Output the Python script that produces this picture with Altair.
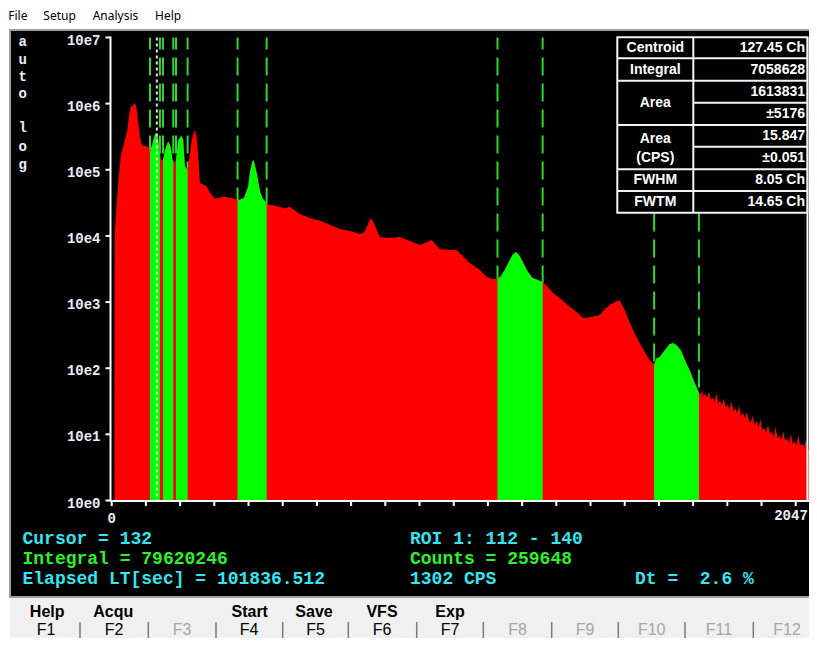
import altair as alt
import pandas as pd

OFF = 8          # page margin
W, H = 801, 630  # fits inside the 817x646 window without overflow

# ---------------- data ----------------
channels = [0, 8, 9, 15, 21, 27, 33, 39, 45, 51, 56, 62, 68, 71, 74, 77, 83, 89, 97, 106,
            112, 117, 126, 131, 136, 141, 145, 150, 156, 165, 172, 178, 180, 184, 188, 195,
            204, 209, 214, 221, 222, 224, 234, 243, 248, 253, 258, 268, 278, 287, 297, 302,
            316, 331, 346, 360, 368, 375, 387, 399, 404, 410, 414, 417, 424, 431, 435, 442,
            453, 462, 492, 506, 521, 536, 550, 579, 609, 638, 667, 696, 726, 740, 750, 758,
            766, 776, 784, 813, 842, 872, 901, 916, 935, 959, 989, 1009, 1032, 1047, 1076, 1097,
            1114, 1128, 1138, 1149, 1161, 1173, 1183, 1193, 1205, 1217, 1231, 1246, 1260,
            1276, 1290, 1310, 1339, 1363, 1378, 1398, 1427, 1442, 1456, 1471, 1485, 1500,
            1515, 1529, 1544, 1559, 1573, 1586, 1593, 1602, 1617, 1631, 1641, 1652, 1664,
            1680, 1690, 1704, 1717, 1722, 1726, 1730, 1736, 1741, 1747, 1752, 1758, 1763,
            1768, 1773, 1779, 1784, 1790, 1795, 1801, 1806, 1812, 1818, 1823, 1829, 1835,
            1840, 1846, 1852, 1857, 1863, 1868, 1874, 1880, 1885, 1891, 1897, 1902, 1908,
            1913, 1919, 1925, 1930, 1936, 1941, 1947, 1952, 1958, 1964, 1969, 1975, 1980,
            1986, 1991, 1997, 2002, 2008, 2013, 2019, 2025, 2030, 2036, 2041, 2047]
counts = [1, 1, 11500, 35000, 84000, 169000, 215000, 285000, 377000, 681000, 900000, 933000,
          1036000, 930000, 756000, 534000, 305000, 231000, 231000, 223000,
          201000, 225000, 339000, 364000, 285000, 181000, 142000, 142000, 201000, 270000,
          225000, 142000, 133000, 128000, 142000, 285000, 327000, 285000, 113000, 100000,
          107000, 113000, 285000, 404000, 320000, 159000, 63500, 59300, 56000, 44800, 39500,
          36400, 37700, 39000, 37700, 36400, 35100, 35100, 37700, 56000, 90000, 128000,
          142000, 128000, 90000, 56000, 44800, 36400, 31600, 29500, 27500, 26000, 27500,
          24000, 21500, 18700, 16900, 14700, 12700, 11900, 10700, 11500, 15500, 18500, 16000,
          12000, 9650, 9330, 9650, 8400, 7310, 7800, 8700, 6350, 6140, 6140, 4640, 3900, 3050,
          2390, 2230, 2230, 2480, 3050, 4040, 5300, 5720, 4970, 3750, 2850, 2310, 2150, 2010,
          1690, 1370, 1150, 850, 681, 572, 590, 635, 783, 900, 1000, 1070, 756,
          481, 338, 239, 175, 132, 115, 142, 148, 187, 231, 241, 223, 187,
          119, 93, 61, 43, 40, 47, 37, 41, 36, 44, 33, 36, 31,
          42, 30, 32, 27, 35, 25, 28, 24, 31, 22, 25, 21, 27,
          19, 21, 17.5, 22, 16, 15, 19, 13.5, 16, 12.5, 17, 11.5, 12.5,
          10.5, 14, 10, 11, 9, 13, 8.7, 9.5, 8.2, 11, 8, 8.6, 7.4,
          10, 7.2, 7.8, 6.8, 9.5, 6.7, 7.2, 6.3, 8.5, 6.0, 5.5, 4.8]
roi_start = [112, 150, 188, 368, 1128, 1586]
roi_end = [141, 180, 222, 453, 1260, 1717]
cursor_channel = [132]
x_tick_values = list(range(0, 2001, 100)) + [2047]
x_label_values = [0, 2047]
x_label_texts = ["0", "2047"]
y_tick_values = [1, 10, 100, 1000, 1e4, 1e5, 1e6, 1e7]
y_tick_texts = ["10e0", "10e1", "10e2", "10e3", "10e4", "10e5", "10e6", "10e7"]
side_letters = ["a", "u", "t", "o", "l", "o", "g"]

table_names = ["Centroid", "Integral", "Area", "Area", "(CPS)", "FWHM", "FWTM"]
table_values = ["127.45 Ch", "7058628", "1613831", "±5176", "15.847", "±0.051",
                "8.05 Ch", "14.65 Ch"]

info_left = ["Cursor = 132", "Integral = 79620246", "Elapsed LT[sec] = 101836.512"]
info_right = ["ROI 1: 112 - 140", "Counts = 259648", "1302 CPS"]
dt_text = "Dt =\u00a0\u00a02.6 %"
menu_items = ["File", "Setup", "Analysis", "Help"]
fkey_titles = ["Help", "Acqu", "Start", "Save", "VFS", "Exp"]
fkey_names = ["F1", "F2", "F3", "F4", "F5", "F6", "F7", "F8", "F9", "F10", "F11", "F12"]
fkey_enabled = [True, True, False, True, True, True, True, False, False, False, False, False]

# ---------------- layout (page pixels) ----------------
CYAN = "#36e4f0"
GREEN = "#2ef02e"
WHITE = "#e9eef8"

def P(v):
    return v - OFF

xs = alt.Scale(domain=[0, 2047], range=[P(111.7), P(811.8)])
ys = alt.Scale(type="log", domain=[1, 1e7], range=[P(500.5), P(37.5)])

def px_rects(rows, **mark):
    df = pd.DataFrame(rows, columns=["x", "x2", "y", "y2"])
    for c in df.columns:
        df[c] = df[c] - OFF
    return alt.Chart(df).mark_rect(**mark).encode(
        x=alt.X("x:Q", scale=None, axis=None), x2="x2:Q",
        y=alt.Y("y:Q", scale=None, axis=None), y2="y2:Q")

def px_rules(rows, **mark):
    df = pd.DataFrame(rows, columns=["x", "x2", "y", "y2"])
    for c in df.columns:
        df[c] = df[c] - OFF
    return alt.Chart(df).mark_rule(**mark).encode(
        x=alt.X("x:Q", scale=None, axis=None), x2="x2:Q",
        y=alt.Y("y:Q", scale=None, axis=None), y2="y2:Q")

def px_texts(rows, **mark):
    df = pd.DataFrame(rows, columns=["x", "y", "t", "c"])
    df["x"] = df["x"] - OFF
    df["y"] = df["y"] - OFF
    return alt.Chart(df).mark_text(baseline="middle", **mark).encode(
        x=alt.X("x:Q", scale=None, axis=None), y=alt.Y("y:Q", scale=None, axis=None),
        text="t:N", color=alt.Color("c:N", scale=None, legend=None))

layers = []

# window backgrounds
layers.append(px_rects([(10, 830, 597, 660)], color="#f0f0f0"))
layers.append(px_rects([(10, 830, 30, 597)], fill="#000000", stroke="#a0a0a0", strokeWidth=2))

# ROI dashed markers
bounds = pd.DataFrame({"ch": roi_start + roi_end})
layers.append(alt.Chart(bounds).mark_rule(color="#2ed62e", strokeWidth=2,
                                          strokeDash=[18, 8], strokeDashOffset=6).encode(
    x=alt.X("ch:Q", scale=xs, axis=None),
    y=alt.Y(datum=1e7, scale=ys, axis=None), y2=alt.Y2(datum=1)))

# spectrum
spec = pd.DataFrame({"ch": channels, "cnt": counts})
layers.append(alt.Chart(spec).mark_area(color="#ff0000", interpolate="linear").encode(
    x=alt.X("ch:Q", scale=xs, axis=None),
    y=alt.Y("cnt:Q", scale=ys, axis=None), y2=alt.Y2(datum=1)))
parts = []
for i, (s, e) in enumerate(zip(roi_start, roi_end)):
    sub = spec[(spec.ch >= s) & (spec.ch <= e)].copy()
    sub["roi"] = i
    parts.append(sub)
roi_df = pd.concat(parts, ignore_index=True)
layers.append(alt.Chart(roi_df).mark_area(color="#00ff00", interpolate="linear").encode(
    x=alt.X("ch:Q", scale=xs, axis=None),
    y=alt.Y("cnt:Q", scale=ys, axis=None), y2=alt.Y2(datum=1),
    detail="roi:N"))

# cursor
layers.append(alt.Chart(pd.DataFrame({"ch": cursor_channel})).mark_rule(
    color="#dddddd", strokeWidth=2, strokeDash=[3, 3]).encode(
    x=alt.X("ch:Q", scale=xs, axis=None),
    y=alt.Y(datum=1e7, scale=ys, axis=None), y2=alt.Y2(datum=1)))

# axes
layers.append(px_rules([(110.5, 110.5, 36.5, 502), (110, 813.5, 501, 501),
                        (807.5, 807.5, 37, 502)], color="#ffffff", strokeWidth=2))
layers.append(alt.Chart(pd.DataFrame({"ch": x_tick_values})).mark_rule(
    color="#ffffff", strokeWidth=2).encode(
    x=alt.X("ch:Q", scale=xs, axis=None), y=alt.value(P(501)), y2=alt.value(P(506))))
layers.append(alt.Chart(pd.DataFrame({"v": y_tick_values})).mark_rule(
    color="#ffffff", strokeWidth=2).encode(
    y=alt.Y("v:Q", scale=ys, axis=None), x=alt.value(P(105.5)), x2=alt.value(P(110.5))))
layers.append(alt.Chart(pd.DataFrame({"v": y_tick_values, "t": y_tick_texts})).mark_text(
    font="Liberation Mono", fontWeight="bold", fontSize=14, align="right",
    baseline="middle", dy=3, color=WHITE).encode(
    y=alt.Y("v:Q", scale=ys, axis=None), x=alt.value(P(100.5)), text="t:N"))
xl = pd.DataFrame({"ch": x_label_values, "t": x_label_texts})
layers.append(alt.Chart(xl.iloc[:1]).mark_text(
    font="Liberation Mono", fontWeight="bold", fontSize=14, align="center",
    baseline="middle", color=WHITE).encode(
    x=alt.X("ch:Q", scale=xs, axis=None), y=alt.value(P(519)), text="t:N"))
layers.append(alt.Chart(xl.iloc[1:]).mark_text(
    font="Liberation Mono", fontWeight="bold", fontSize=14, align="right",
    baseline="middle", dx=-4, color=WHITE).encode(
    x=alt.X("ch:Q", scale=xs, axis=None), y=alt.value(P(516)), text="t:N"))

letter_y = [41.7, 60, 76.7, 94, 128.3, 146.7, 165]
layers.append(px_texts([(22.7, yy, t, WHITE) for yy, t in zip(letter_y, side_letters)],
                       font="Liberation Mono", fontWeight="bold", fontSize=14, align="center"))

# results table
TL, TM, TR, TT, TB = 617.3, 693.3, 807.3, 37.3, 212.7
layers.append(px_rects([(TL, TR, TT, TB)], fill="#000000", stroke="#f4f4f4", strokeWidth=2))
tlines = [(TM, TM, TT, TB)]
tlines += [(TL, TR, yy, yy) for yy in [58.3, 80.7, 125, 169.3, 191]]
tlines += [(TM, TR, yy, yy) for yy in [102.7, 146.7]]
layers.append(px_rules(tlines, color="#f4f4f4", strokeWidth=2))
name_y = [47.8, 70, 102.7, 139.3, 157.8, 180.3, 202.3]
layers.append(px_texts([(655.3, yy, t, "#ffffff") for yy, t in zip(name_y, table_names)],
                       font="Liberation Sans", fontWeight="bold", fontSize=14, align="center"))
val_y = [47.8, 70, 91.7, 113.8, 136, 157.8, 180.3, 202.3]
layers.append(px_texts([(805.0, yy, t, "#ffffff") for yy, t in zip(val_y, table_values)],
                       font="Liberation Sans", fontWeight="bold", fontSize=14, align="right"))

# status texts
info_rows = []
info_cols = [CYAN, GREEN, CYAN]
for yy, t, c in zip([539, 559, 579], info_left, info_cols):
    info_rows.append((22.5, yy, t, c))
for yy, t, c in zip([539, 559, 579], info_right, info_cols):
    info_rows.append((410, yy, t, c))
info_rows.append((635, 579, dt_text, CYAN))
layers.append(px_texts(info_rows, font="Liberation Mono", fontWeight="bold",
                       fontSize=18, align="left"))

# menu bar
menu_x = [8.3, 43.3, 92.7, 155]
layers.append(px_texts([(xx, 15.7, t, "#000000") for xx, t in zip(menu_x, menu_items)],
                       font="Noto Sans", fontSize=12, align="left"))

# function key bar
title_x = [47.2, 113.3, 249.7, 314, 382, 450]
layers.append(px_texts([(xx, 611.7, t, "#000000") for xx, t in zip(title_x, fkey_titles)],
                       font="Liberation Sans", fontWeight="bold", fontSize=16, align="center"))
key_x = [46, 114, 182, 249, 315.5, 382, 450, 517.5, 585, 651.7, 719, 787]
layers.append(px_texts([(xx, 629.5, t, "#000000" if en else "#a6a6a6")
                        for xx, t, en in zip(key_x, fkey_names, fkey_enabled)],
                       font="Liberation Sans", fontSize=16, align="center"))
sep_x = [80, 148.3, 216, 282.7, 348.3, 416.7, 483.3, 551.7, 618.3, 685, 753.3]
layers.append(px_rules([(xx, xx, 622, 640) for xx in sep_x], color="#7a7a7a", strokeWidth=1.5))

chart = alt.layer(*layers).resolve_scale(
    x="independent", y="independent", color="independent"
).properties(
    width=W, height=H, autosize=alt.AutoSizeParams(type="none"), padding=0,
    background="#ffffff"
).configure_view(stroke=None)

chart.save("out.html", embed_options={"renderer": "svg", "actions": False})
